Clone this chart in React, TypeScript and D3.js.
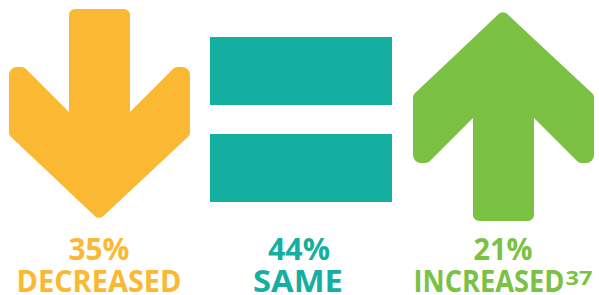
import * as d3 from "d3";

const categories = ["DECREASED", "SAME", "INCREASED"];
const percents = [35, 44, 21];
const icons = ["down", "equal", "up"];
const colors = ["#FBB933", "#14AFA1", "#7BC143"];
const footnote = "37";

const W = 599;
const H = 295;

// arrow outline pointing up, x relative to centre, y from the tip; [x, y, corner radius]
const arrowPts: [number, number, number][] = [
  [0, 0, 6],
  [91, 85, 5],
  [91, 153, 8],
  [76, 153, 6],
  [31, 108, 0],
  [31, 211, 6],
  [-30, 211, 6],
  [-30, 108, 0],
  [-75, 153, 6],
  [-90, 153, 8],
  [-90, 85, 5],
];

function roundedPath(pts: [number, number, number][]) {
  const p = d3.path();
  const n = pts.length;
  const last = pts[n - 1];
  p.moveTo((last[0] + pts[0][0]) / 2, (last[1] + pts[0][1]) / 2);
  for (let i = 0; i < n; i++) {
    const [x, y, r] = pts[i];
    const nx = pts[(i + 1) % n];
    if (r > 0) p.arcTo(x, y, nx[0], nx[1], r);
    else p.lineTo(x, y);
  }
  p.closePath();
  return p.toString();
}

// widths of the condensed lettering in the picture
const pctWidth: Record<string, number> = { DECREASED: 61, SAME: 62, INCREASED: 59 };
const labelWidth: Record<string, number> = { DECREASED: 165, SAME: 90, INCREASED: 151 };

export default function App() {
  const x = d3.scalePoint<string>().domain(categories).range([99, 503]);
  const arrowD = roundedPath(arrowPts);
  const font = "'Open Sans', 'DejaVu Sans', sans-serif";

  return (
    <svg width={W} height={H} style={{ position: "absolute", left: 0, top: 0, background: "#fff" }}>
      {categories.map((c, i) => {
        const cx = x(c) as number;
        const col = colors[i];
        const icon = icons[i];
        const hasNote = icon === "up";
        const lw = labelWidth[c];
        const noteW = 27;
        const total = hasNote ? lw + 1 + noteW : lw;
        const start = cx - total / 2;
        return (
          <g key={c}>
            {icon === "down" && (
              <path d={arrowD} fill={col} transform={`translate(${cx},220) scale(1,-1)`} />
            )}
            {icon === "up" && <path d={arrowD} fill={col} transform={`translate(${cx},10)`} />}
            {icon === "equal" && (
              <g fill={col}>
                <rect x={cx - 91} y={37} width={182} height={68} />
                <rect x={cx - 91} y={134} width={182} height={68} />
              </g>
            )}
            <text
              x={cx - pctWidth[c] / 2 + (icon === "equal" ? -2 : 0)}
              y={260}
              fill={col}
              fontFamily={font}
              fontWeight={700}
              fontSize={31}
              textLength={pctWidth[c]}
              lengthAdjust="spacingAndGlyphs"
            >
              {percents[i]}%
            </text>
            <text
              x={start + (icon === "equal" ? -3 : 0)}
              y={292}
              fill={col}
              fontFamily={font}
              fontWeight={700}
              fontSize={31}
              textLength={lw}
              lengthAdjust="spacingAndGlyphs"
            >
              {c}
            </text>
            {hasNote && (
              <text
                x={start + lw + 1}
                y={285}
                fill={col}
                fontFamily={font}
                fontWeight={700}
                fontSize={19}
                textLength={noteW}
                lengthAdjust="spacingAndGlyphs"
              >
                {footnote}
              </text>
            )}
          </g>
        );
      })}
    </svg>
  );
}
